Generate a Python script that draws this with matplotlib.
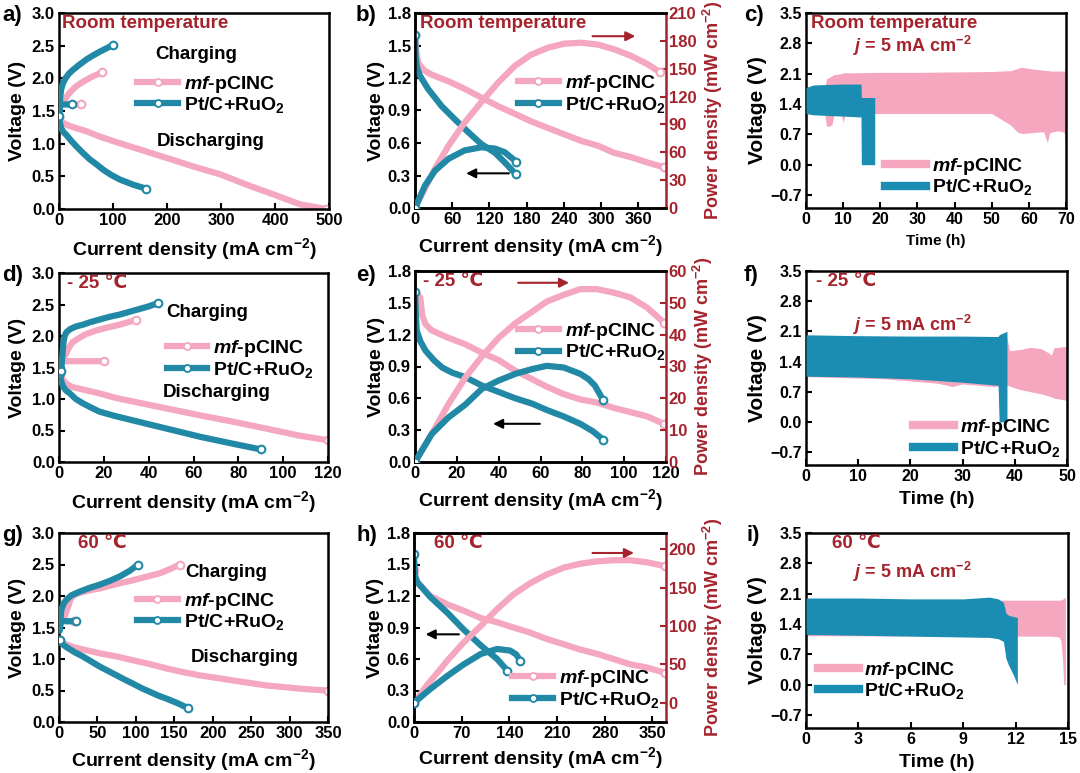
import matplotlib
matplotlib.use('Agg')
import matplotlib.pyplot as plt
from matplotlib.lines import Line2D

plt.rcParams['font.family'] = ['Liberation Sans', 'DejaVu Sans']
plt.rcParams['font.weight'] = 'bold'
plt.rcParams['axes.labelweight'] = 'bold'
plt.rcParams['mathtext.fontset'] = 'custom'
plt.rcParams['mathtext.rm'] = 'Liberation Sans:bold'
plt.rcParams['mathtext.bf'] = 'Liberation Sans:bold'
plt.rcParams['mathtext.it'] = 'Liberation Sans:bold:italic'
plt.rcParams['mathtext.default'] = 'rm'

PINK = '#F4A7BE'
TEAL = '#2189A5'
TEAL2 = '#1B8DB2'
RED = '#A5232C'

LBL_MF = r'$\mathit{mf}$-pCINC'
LBL_PT = r'Pt/C+RuO$_2$'
XLAB = r'Current density (mA cm$^{-2}$)'
PLAB = r'Power density (mW cm$^{-2}$)'

# ---------------- Panel a: room temperature charge/discharge ----------------
a_mf_dis_x = [0, 3, 7, 20, 35, 51, 75, 100, 150, 200, 249, 299, 348, 398, 447, 495]
a_mf_dis_y = [1.40, 1.35, 1.32, 1.27, 1.23, 1.19, 1.11, 1.04, 0.91, 0.78, 0.65, 0.53, 0.37, 0.22, 0.07, 0.0]
a_mf_chg_x = [41, 30, 15, 8, 10, 14, 22, 32, 45, 60, 79]
a_mf_chg_y = [1.60, 1.60, 1.60, 1.62, 1.66, 1.72, 1.80, 1.88, 1.95, 2.02, 2.09]
a_pt_dis_x = [0, 2, 4, 8, 14, 22, 32, 44, 57, 70, 82, 97, 113, 138, 162]
a_pt_dis_y = [1.42, 1.30, 1.24, 1.18, 1.13, 1.05, 0.96, 0.86, 0.76, 0.68, 0.60, 0.52, 0.45, 0.37, 0.31]
a_pt_chg_x = [24, 10, 2, 1, 2, 4, 7, 12, 18, 26, 38, 51, 63, 76, 88, 100]
a_pt_chg_y = [1.60, 1.60, 1.60, 1.45, 1.70, 1.83, 1.92, 2.00, 2.07, 2.13, 2.21, 2.29, 2.35, 2.41, 2.46, 2.51]

# ---------------- Panel b: room temperature polarization / power ----------------
b_mf_v_x = [0, 2, 5, 15, 27, 54, 80, 107, 134, 161, 187, 214, 241, 268, 295, 321, 348, 375, 402]
b_mf_v_y = [1.60, 1.45, 1.34, 1.27, 1.23, 1.17, 1.10, 1.02, 0.94, 0.87, 0.80, 0.74, 0.68, 0.62, 0.575, 0.51, 0.47, 0.42, 0.375]
b_mf_p_x = [0, 16, 32, 54, 80, 107, 134, 161, 187, 214, 241, 268, 295, 321, 348, 375, 396]
b_mf_p_y = [0, 21, 42, 67, 92, 114, 135, 153, 165, 172.5, 177, 178, 176, 171, 164, 155, 146]
b_pt_v_x = [0, 1, 3, 8, 21, 43, 64, 86, 107, 129, 145, 163]
b_pt_v_y = [1.60, 1.40, 1.30, 1.22, 1.10, 0.94, 0.82, 0.70, 0.59, 0.51, 0.42, 0.31]
b_pt_p_x = [0, 16, 32, 54, 80, 107, 129, 145, 163]
b_pt_p_y = [0, 24, 40, 53, 62, 65.4, 64, 60, 50]

# ---------------- Panel c: room temperature cycling ----------------
c_mf_t = [0, 5, 5.5, 6, 7, 7.5, 8, 9.5, 10, 10.5, 12, 20, 30, 40, 50, 55, 57, 58, 60, 62, 64, 65, 65.5, 66, 68, 69.5, 70]
c_mf_up = [1.75, 1.75, 1.98, 2.00, 2.05, 2.08, 2.08, 2.10, 2.12, 2.12, 2.12, 2.13, 2.13, 2.14, 2.15, 2.17, 2.22, 2.25, 2.22, 2.20, 2.18, 2.17, 2.17, 2.16, 2.16, 2.16, 2.16]
c_mf_lo = [1.18, 1.18, 0.90, 0.88, 0.92, 1.15, 1.16, 1.16, 0.97, 1.16, 1.18, 1.18, 1.18, 1.18, 1.18, 0.92, 0.75, 0.72, 0.73, 0.75, 0.76, 0.50, 0.72, 0.75, 0.78, 0.75, 0.45]
c_pt_t = [0, 2, 10, 14.8, 14.9, 18.5]
c_pt_up = [1.78, 1.84, 1.86, 1.86, 1.55, 1.55]
c_pt_lo = [1.18, 1.15, 1.12, 1.10, 0.0, 0.0]

# ---------------- Panel d: -25 C charge/discharge ----------------
d_mf_dis_x = [0.3, 1.5, 3.3, 6, 10.7, 18, 25, 33, 48, 63, 77.6, 92.5, 107, 120]
d_mf_dis_y = [1.45, 1.32, 1.24, 1.19, 1.15, 1.09, 1.02, 0.96, 0.85, 0.74, 0.64, 0.53, 0.42, 0.345]
d_mf_chg_x = [20, 10, 3, 1.8, 2.5, 3.3, 4.5, 6, 9, 12, 16, 21, 26, 30, 34.5]
d_mf_chg_y = [1.60, 1.60, 1.60, 1.62, 1.68, 1.73, 1.82, 1.90, 1.97, 2.03, 2.08, 2.13, 2.17, 2.21, 2.26]
d_pt_dis_x = [0.3, 1.0, 1.8, 3, 4.8, 7.5, 10.7, 14, 18, 25, 33, 48, 63, 77.6, 90]
d_pt_dis_y = [1.41, 1.28, 1.20, 1.14, 1.09, 1.00, 0.93, 0.87, 0.80, 0.73, 0.66, 0.53, 0.40, 0.29, 0.20]
d_pt_chg_x = [1, 1.5, 2, 2.5, 3.3, 5, 7.5, 10.7, 14, 18, 22, 27, 31, 36, 40, 44]
d_pt_chg_y = [1.45, 1.70, 1.90, 2.00, 2.06, 2.11, 2.15, 2.18, 2.22, 2.26, 2.30, 2.34, 2.38, 2.43, 2.47, 2.52]

# ---------------- Panel e: -25 C polarization / power ----------------
e_mf_v_x = [0, 2.5, 3.5, 5, 8, 16, 24, 32, 40, 48, 56, 63, 71, 79, 87, 95, 103, 111, 119]
e_mf_v_y = [1.60, 1.55, 1.38, 1.30, 1.24, 1.17, 1.11, 1.03, 0.96, 0.86, 0.78, 0.71, 0.64, 0.59, 0.56, 0.51, 0.47, 0.43, 0.36]
e_mf_p_x = [0, 8, 16, 24, 32, 40, 48, 56, 63, 71, 79, 87, 95, 103, 111, 119]
e_mf_p_y = [0, 8.8, 18.2, 26.5, 33.2, 39.0, 43.6, 47.2, 50.4, 52.5, 54.3, 54.3, 53.2, 51.7, 48.5, 43.8]
e_pt_v_x = [0, 0.5, 0.8, 2.5, 5, 9, 13, 18, 24, 32, 40, 48, 56, 63, 71, 79, 85, 90]
e_pt_v_y = [1.60, 1.35, 1.24, 1.14, 1.05, 0.96, 0.89, 0.84, 0.80, 0.72, 0.66, 0.60, 0.55, 0.49, 0.43, 0.36, 0.29, 0.21]
e_pt_p_x = [0, 8, 16, 24, 32, 40, 48, 56, 63, 71, 79, 83, 86, 90]
e_pt_p_y = [0, 8.8, 14.0, 18.0, 23.0, 25.6, 27.7, 29.2, 30.2, 29.7, 27.7, 26.0, 24.0, 19.4]

# ---------------- Panel f: -25 C cycling ----------------
f_mf_t = [0, 15, 20, 25, 27, 28, 30, 33, 36, 38.5, 39, 41, 43, 45, 46.5, 47, 47.5, 50]
f_mf_up = [1.95, 1.95, 1.95, 1.95, 1.95, 1.95, 1.95, 1.95, 1.95, 1.95, 1.65, 1.68, 1.73, 1.70, 1.60, 1.55, 1.72, 1.75]
f_mf_lo = [1.05, 1.00, 0.95, 0.90, 0.85, 0.82, 0.88, 0.85, 0.82, 0.85, 0.83, 0.75, 0.70, 0.65, 0.60, 0.58, 0.55, 0.50]
f_pt_t = [0, 10, 20, 30, 36.8, 37.0, 37.5, 38.5]
f_pt_up = [2.02, 2.00, 1.99, 1.99, 1.98, 2.02, 2.05, 2.10]
f_pt_lo = [1.06, 1.04, 1.00, 0.92, 0.85, 0.0, 0.0, 0.0]

# ---------------- Panel g: 60 C charge/discharge ----------------
g_mf_dis_x = [1, 8, 18, 35, 53, 75, 96, 118, 140, 162, 183, 205, 226, 248, 270, 292, 313, 335, 350]
g_mf_dis_y = [1.30, 1.24, 1.19, 1.14, 1.09, 1.04, 0.98, 0.92, 0.85, 0.79, 0.74, 0.70, 0.66, 0.62, 0.58, 0.555, 0.53, 0.51, 0.50]
g_mf_chg_x = [20, 10, 5, 8, 12, 15, 20, 30, 40, 53, 75, 96, 115, 131, 145, 157]
g_mf_chg_y = [1.60, 1.60, 1.62, 1.70, 1.83, 1.95, 2.02, 2.06, 2.09, 2.12, 2.19, 2.25, 2.31, 2.36, 2.43, 2.50]
g_pt_dis_x = [1, 4, 9.5, 20, 31, 42, 53, 64, 75, 86, 96, 107, 118, 129, 140, 154, 168]
g_pt_dis_y = [1.30, 1.24, 1.19, 1.11, 1.04, 0.96, 0.88, 0.81, 0.74, 0.67, 0.61, 0.54, 0.48, 0.42, 0.37, 0.30, 0.22]
g_pt_chg_x = [22, 10, 2, 1, 2, 3, 6, 9.5, 16, 27, 40, 53, 66, 79, 92, 103]
g_pt_chg_y = [1.60, 1.60, 1.60, 1.45, 1.65, 1.78, 1.88, 1.94, 2.01, 2.07, 2.13, 2.18, 2.24, 2.31, 2.40, 2.50]

# ---------------- Panel h: 60 C polarization / power ----------------
h_mf_v_x = [0, 2, 5, 24, 49, 73, 98, 122, 146, 171, 195, 220, 244, 268, 293, 317, 341, 368]
h_mf_v_y = [1.45, 1.38, 1.33, 1.20, 1.12, 1.06, 0.99, 0.95, 0.90, 0.85, 0.79, 0.74, 0.69, 0.65, 0.60, 0.55, 0.52, 0.47]
h_mf_p_x = [0, 20, 39, 49, 73, 98, 122, 146, 171, 195, 220, 244, 268, 293, 317, 341, 368]
h_mf_p_y = [0, 24, 44, 55, 78.6, 100, 122, 141, 156, 167, 176, 181, 184, 185.6, 185.6, 183, 178]
h_pt_v_x = [0, 1, 2, 5, 24, 49, 73, 98, 122, 137]
h_pt_v_y = [1.60, 1.45, 1.38, 1.33, 1.19, 1.04, 0.88, 0.73, 0.60, 0.49]
h_pt_p_x = [0, 24, 49, 73, 98, 122, 141, 150, 156]
h_pt_p_y = [0, 18, 35, 50, 63.5, 70, 68, 63, 55]

# ---------------- Panel i: 60 C cycling ----------------
i_mf_t = [0, 11.3, 12, 13, 14, 14.5, 14.6, 14.7, 14.75, 14.85]
i_mf_up = [1.95, 1.95, 1.95, 1.95, 1.95, 1.95, 1.96, 1.97, 2.00, 2.00]
i_mf_lo = [1.13, 1.12, 1.12, 1.12, 1.12, 1.10, 1.00, 0.50, 0.0, 0.0]
i_pt_t = [0, 3, 6, 9, 10.5, 11.0, 11.3, 11.45, 11.6, 11.9, 12.1]
i_pt_up = [2.00, 2.00, 1.98, 1.98, 2.02, 1.98, 1.90, 1.65, 1.60, 1.57, 1.55]
i_pt_lo = [1.16, 1.14, 1.12, 1.10, 1.09, 1.06, 1.00, 0.60, 0.45, 0.20, 0.0]

W, H = 1080, 773
fig = plt.figure(figsize=(10.8, 7.73), dpi=100)


def rect(l, r, t, b):
    return [l / W, (H - b) / H, (r - l) / W, (b - t) / H]


def style(ax, ls=12):
    for s in ax.spines.values():
        s.set_linewidth(1.8)
        s.set_color('black')
    ax.tick_params(direction='in', width=1.5, length=4, labelsize=ls, pad=3)


def curve(ax, x, y, c, z=2):
    ax.plot(x, y, color=c, lw=4.5, solid_capstyle='round', solid_joinstyle='round', zorder=z)
    ax.plot([x[0], x[-1]], [y[0], y[-1]], ls='none', marker='o', ms=5.5,
            mfc='white', mec=c, mew=1.5, zorder=z + 0.1)


def pol_handles():
    return [Line2D([], [], color=PINK, lw=4.5, marker='o', ms=5, mfc='white', mec=PINK, mew=1.3),
            Line2D([], [], color=TEAL, lw=4.5, marker='o', ms=5, mfc='white', mec=TEAL, mew=1.3)]


def time_handles():
    return [Line2D([], [], color=PINK, lw=6), Line2D([], [], color=TEAL2, lw=6)]


def add_legend(ax, handles, x, y):
    ax.legend(handles, [LBL_MF, LBL_PT], loc='center left', bbox_to_anchor=(x, y),
              frameon=False, fontsize=14, handlelength=2.1, handletextpad=0.3,
              labelspacing=0.02, borderpad=0, borderaxespad=0)


def fig_label(x, y, s):
    fig.text(x / W, 1 - y / H, s, fontsize=16, fontweight='bold', va='center', ha='left')


def red_text(ax, x, y, s, fs=13.5):
    ax.text(x, y, s, transform=ax.transAxes, color=RED, fontsize=fs, fontweight='bold',
            va='center', ha='left')


# ---------------- charge/discharge panels ----------------
def chgdis(r, xlim, xticks, mf_dis, mf_chg, pt_dis, pt_chg, title, tx, chg_pos, dis_pos, leg, lp=6):
    ax = fig.add_axes(rect(*r))
    curve(ax, mf_dis[0], mf_dis[1], PINK)
    curve(ax, mf_chg[0], mf_chg[1], PINK)
    curve(ax, pt_dis[0], pt_dis[1], TEAL, z=3)
    curve(ax, pt_chg[0], pt_chg[1], TEAL, z=3)
    ax.set_xlim(*xlim)
    ax.set_ylim(0, 3.0)
    ax.set_xticks(xticks)
    ax.set_yticks([0, 0.5, 1.0, 1.5, 2.0, 2.5, 3.0])
    ax.set_yticklabels(['0.0', '0.5', '1.0', '1.5', '2.0', '2.5', '3.0'])
    style(ax)
    ax.set_xlabel(XLAB, fontsize=14, labelpad=lp)
    ax.set_ylabel('Voltage (V)', fontsize=14, labelpad=4)
    red_text(ax, tx, 0.945, title)
    ax.text(chg_pos[0], chg_pos[1], 'Charging', fontsize=13.5, fontweight='bold', ha='center', va='center')
    ax.text(dis_pos[0], dis_pos[1], 'Discharging', fontsize=13.5, fontweight='bold', ha='center', va='center')
    add_legend(ax, pol_handles(), leg[0], leg[1])
    return ax


chgdis((59, 329, 13, 209), (0, 500), [0, 100, 200, 300, 400, 500],
       (a_mf_dis_x, a_mf_dis_y), (a_mf_chg_x, a_mf_chg_y),
       (a_pt_dis_x, a_pt_dis_y), (a_pt_chg_x, a_pt_chg_y),
       'Room temperature', 0.01, (254, 2.36), (280, 1.03), (0.29, 0.585))
chgdis((59, 328, 273, 462), (0, 120), [0, 20, 40, 60, 80, 100, 120],
       (d_mf_dis_x, d_mf_dis_y), (d_mf_chg_x, d_mf_chg_y),
       (d_pt_dis_x, d_pt_dis_y), (d_pt_chg_x, d_pt_chg_y),
       '- 25 ℃', 0.03, (66, 2.37), (70.5, 1.1), (0.40, 0.545))
chgdis((59, 328, 533, 722), (0, 350), [0, 50, 100, 150, 200, 250, 300, 350],
       (g_mf_dis_x, g_mf_dis_y), (g_mf_chg_x, g_mf_chg_y),
       (g_pt_dis_x, g_pt_dis_y), (g_pt_chg_x, g_pt_chg_y),
       '60 ℃', 0.07, (217, 2.38), (242, 1.03), (0.29, 0.585), lp=4)


# ---------------- polarization / power panels ----------------
def polpow(r, xlim, xticks, plim, pticks, mf_v, mf_p, pt_v, pt_p, title, tx, larrow, rarrow, leg, lp=4):
    ax = fig.add_axes(rect(*r))
    ax2 = ax.twinx()
    curve(ax, mf_v[0], mf_v[1], PINK)
    curve(ax, pt_v[0], pt_v[1], TEAL, z=3)
    curve(ax2, mf_p[0], mf_p[1], PINK)
    curve(ax2, pt_p[0], pt_p[1], TEAL, z=3)
    ax.set_xlim(*xlim)
    ax.set_ylim(0, 1.8)
    ax.set_xticks(xticks)
    ax.set_yticks([0, 0.3, 0.6, 0.9, 1.2, 1.5, 1.8])
    ax.set_yticklabels(['0.0', '0.3', '0.6', '0.9', '1.2', '1.5', '1.8'])
    ax2.set_ylim(*plim)
    ax2.set_yticks(pticks)
    style(ax)
    style(ax2)
    ax2.spines['right'].set_color(RED)
    ax.spines['right'].set_visible(False)
    ax2.tick_params(axis='y', colors=RED, pad=2)
    ax.set_xlabel(XLAB, fontsize=14, labelpad=lp)
    ax.set_ylabel('Voltage (V)', fontsize=14, labelpad=2)
    ax2.set_ylabel(PLAB, fontsize=13, color=RED, labelpad=3)
    red_text(ax, tx, 0.945, title)
    ax.annotate('', xy=(larrow[0], larrow[2]), xytext=(larrow[1], larrow[2]),
                arrowprops=dict(arrowstyle='-|>', color='black', lw=1.5, mutation_scale=14))
    ax2.annotate('', xy=(rarrow[1], rarrow[2]), xytext=(rarrow[0], rarrow[2]),
                 arrowprops=dict(arrowstyle='-|>', color=RED, lw=1.5, mutation_scale=14))
    add_legend(ax2, pol_handles(), leg[0], leg[1])
    return ax


polpow((415, 666, 13, 208), (0, 405), [0, 60, 120, 180, 240, 300, 360], (0, 210),
       [0, 30, 60, 90, 120, 150, 180, 210],
       (b_mf_v_x, b_mf_v_y), (b_mf_p_x, b_mf_p_y), (b_pt_v_x, b_pt_v_y), (b_pt_p_x, b_pt_p_y),
       'Room temperature', 0.02, (78, 156, 0.32), (282, 360, 185), (0.41, 0.585))
polpow((415, 666, 271, 462), (0, 120), [0, 20, 40, 60, 80, 100, 120], (0, 60),
       [0, 10, 20, 30, 40, 50, 60],
       (e_mf_v_x, e_mf_v_y), (e_mf_p_x, e_mf_p_y), (e_pt_v_x, e_pt_v_y), (e_pt_p_x, e_pt_p_y),
       '- 25 ℃', 0.03, (36, 61, 0.36), (48, 75, 56.3), (0.41, 0.63))
polpow((414, 666, 533, 722), (0, 370), [0, 70, 140, 210, 280, 350], (-25, 221),
       [0, 50, 100, 150, 200],
       (h_mf_v_x, h_mf_v_y), (h_mf_p_x, h_mf_p_y), (h_pt_v_x, h_pt_v_y), (h_pt_p_x, h_pt_p_y),
       '60 ℃', 0.08, (13, 70, 0.835), (258, 327, 195), (0.39, 0.175), lp=3)


# ---------------- cycling panels ----------------
def cyc(r, xlim, xticks, mf, pt, title, jy, xlfs, leg, ty=0.945, tx=0.02):
    ax = fig.add_axes(rect(*r))
    ax.fill_between(mf[0], mf[2], mf[1], color=PINK, lw=0, zorder=2)
    ax.fill_between(pt[0], pt[2], pt[1], color=TEAL2, lw=0, zorder=3)
    ax.set_xlim(*xlim)
    ax.set_ylim(-1.0, 3.5)
    ax.set_xticks(xticks)
    ax.set_yticks([-0.7, 0.0, 0.7, 1.4, 2.1, 2.8, 3.5])
    style(ax, ls=11.5)
    ax.set_xlabel('Time (h)', fontsize=xlfs, labelpad=5)
    ax.set_ylabel('Voltage (V)', fontsize=15, labelpad=2)
    red_text(ax, tx, ty, title)
    ax.text(0.18, jy, r'$\mathit{j}$ = 5 mA cm$^{-2}$', transform=ax.transAxes, color=RED,
            fontsize=13, fontweight='bold', va='center', ha='left')
    add_legend(ax, time_handles(), leg[0], leg[1])
    return ax


cyc((806, 1066, 13, 208), (0, 70), [0, 10, 20, 30, 40, 50, 60, 70],
    (c_mf_t, c_mf_up, c_mf_lo), (c_pt_t, c_pt_up, c_pt_lo),
    'Room temperature', 0.83, 11, (0.305, 0.16))
cyc((806, 1067, 271, 465), (0, 50), [0, 10, 20, 30, 40, 50],
    (f_mf_t, f_mf_up, f_mf_lo), (f_pt_t, f_pt_up, f_pt_lo),
    '- 25 ℃', 0.72, 14, (0.41, 0.14), tx=0.04)
cyc((806, 1068, 533, 728), (0, 15), [0, 3, 6, 9, 12, 15],
    (i_mf_t, i_mf_up, i_mf_lo), (i_pt_t, i_pt_up, i_pt_lo),
    '60 ℃', 0.8, 14, (0.045, 0.245), tx=0.10)

for x, y, s in [(2, 16, 'a)'), (356, 16, 'b)'), (744, 16, 'c)'),
                (2, 276, 'd)'), (356, 276, 'e)'), (744, 276, 'f)'),
                (2, 536, 'g)'), (356, 536, 'h)'), (746, 536, 'i)')]:
    fig_label(x, y, s)

fig.savefig('out.png', dpi=100)
